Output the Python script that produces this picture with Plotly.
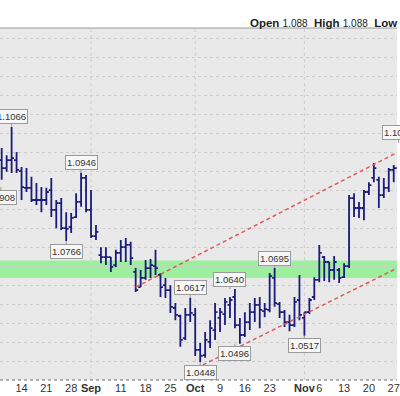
import numpy as np
import pandas as pd
import plotly.graph_objects as go

# ---------------- data ----------------
DATES = [d.strftime("%Y-%m-%d") for d in pd.bdate_range("2017-08-08", "2017-11-28")]

OPEN = [1.0979, 1.0958, 1.0979, 1.0979, 1.0950, 1.0906, 1.0906, 1.0874, 1.0874, 1.0874,
        1.0900, 1.0848, 1.0866, 1.0800, 1.0803, 1.0829, 1.0869, 1.0932, 1.0848, 1.0779,
        1.0729, 1.0724, 1.0724, 1.0703, 1.0735, 1.0750, 1.0756, 1.0685, 1.0645, 1.0669,
        1.0695, 1.0700, 1.0677, 1.0650, 1.0637, 1.0590, 1.0569, 1.0511, 1.0572, 1.0572,
        1.0480, 1.0466, 1.0501, 1.0532, 1.0564, 1.0574, 1.0598, 1.0619, 1.0545, 1.0519,
        1.0553, 1.0579, 1.0598, 1.0582, 1.0585, 1.0669, 1.0600, 1.0579, 1.0553, 1.0545,
        1.0611, 1.0564, 1.0579, 1.0619, 1.0664, 1.0724, 1.0711, 1.0690, 1.0690, 1.0671,
        1.0700, 1.0879, 1.0853, 1.0853, 1.0895, 1.0932, 1.0927, 1.0887, 1.0906, 1.0953,
        1.0958]
HIGH = [1.1011, 1.0992, 1.1066, 1.1000, 1.0961, 1.0958, 1.0935, 1.0919, 1.0908, 1.0906,
        1.0932, 1.0874, 1.0879, 1.0842, 1.0840, 1.0892, 1.0946, 1.0940, 1.0900, 1.0808,
        1.0750, 1.0750, 1.0724, 1.0743, 1.0769, 1.0774, 1.0764, 1.0695, 1.0690, 1.0716,
        1.0719, 1.0743, 1.0682, 1.0669, 1.0650, 1.0603, 1.0572, 1.0590, 1.0617, 1.0590,
        1.0498, 1.0527, 1.0558, 1.0603, 1.0590, 1.0616, 1.0619, 1.0640, 1.0564, 1.0579,
        1.0603, 1.0616, 1.0619, 1.0603, 1.0682, 1.0695, 1.0606, 1.0585, 1.0572, 1.0619,
        1.0677, 1.0579, 1.0616, 1.0671, 1.0756, 1.0727, 1.0711, 1.0727, 1.0695, 1.0708,
        1.0887, 1.0892, 1.0869, 1.0900, 1.0921, 1.0971, 1.0935, 1.0932, 1.0958, 1.0966,
        1.1024]
LOW = [1.0927, 1.0948, 1.0945, 1.0945, 1.0874, 1.0895, 1.0869, 1.0861, 1.0842, 1.0861,
       1.0829, 1.0800, 1.0795, 1.0766, 1.0787, 1.0827, 1.0856, 1.0842, 1.0774, 1.0769,
       1.0708, 1.0703, 1.0685, 1.0698, 1.0711, 1.0711, 1.0703, 1.0632, 1.0645, 1.0664,
       1.0669, 1.0677, 1.0619, 1.0616, 1.0577, 1.0558, 1.0488, 1.0506, 1.0553, 1.0464,
       1.0448, 1.0459, 1.0485, 1.0506, 1.0527, 1.0545, 1.0564, 1.0537, 1.0496, 1.0514,
       1.0532, 1.0553, 1.0537, 1.0566, 1.0579, 1.0593, 1.0564, 1.0540, 1.0529, 1.0540,
       1.0558, 1.0517, 1.0574, 1.0611, 1.0658, 1.0661, 1.0658, 1.0664, 1.0656, 1.0669,
       1.0695, 1.0829, 1.0827, 1.0821, 1.0887, 1.0921, 1.0853, 1.0879, 1.0895, 1.0921,
       1.0940]
CLOSE = [1.0958, 1.0979, 1.0984, 1.0953, 1.0908, 1.0906, 1.0874, 1.0874, 1.0874, 1.0895,
         1.0848, 1.0866, 1.0800, 1.0798, 1.0827, 1.0869, 1.0932, 1.0848, 1.0779, 1.0790,
         1.0724, 1.0724, 1.0698, 1.0735, 1.0750, 1.0756, 1.0721, 1.0637, 1.0669, 1.0695,
         1.0703, 1.0695, 1.0645, 1.0637, 1.0593, 1.0572, 1.0506, 1.0572, 1.0577, 1.0480,
         1.0464, 1.0506, 1.0537, 1.0579, 1.0579, 1.0606, 1.0611, 1.0545, 1.0519, 1.0553,
         1.0579, 1.0598, 1.0585, 1.0587, 1.0674, 1.0603, 1.0579, 1.0553, 1.0545, 1.0606,
         1.0572, 1.0579, 1.0611, 1.0664, 1.0735, 1.0711, 1.0690, 1.0711, 1.0669, 1.0700,
         1.0879, 1.0853, 1.0853, 1.0895, 1.0913, 1.0958, 1.0887, 1.0906, 1.0953, 1.0958,
         1.1006]

# x-axis tick labels
TICK_DATES = ["2017-08-14", "2017-08-21", "2017-08-28", "2017-09-01", "2017-09-11",
              "2017-09-18", "2017-09-25", "2017-10-02", "2017-10-09", "2017-10-16",
              "2017-10-23", "2017-11-01", "2017-11-06", "2017-11-13", "2017-11-20",
              "2017-11-27"]
TICK_TEXT = ["14", "21", "28", "<b>Sep</b>", "11", "18", "25", "<b>Oct</b>", "9", "16",
             "23", "<b>Nov</b>", "6", "13", "20", "27"]
MONTH_STARTS = ["2017-09-01", "2017-10-02", "2017-11-01"]

# high / low callouts
LABEL_DATES = ["2017-08-10", "2017-08-30", "2017-08-25", "2017-09-29", "2017-10-03",
               "2017-10-11", "2017-10-12", "2017-10-24", "2017-11-01"]
LABEL_PRICES = [1.1066, 1.0946, 1.0766, 1.0617, 1.0448, 1.0640, 1.0496, 1.0695, 1.0517]
LABEL_SIDE = ["high", "high", "low", "high", "low", "high", "low", "high", "low"]
# callouts on bars just outside the visible window
EDGE_LABEL_DATES = ["2017-08-03", "2017-11-28"]
EDGE_LABEL_PRICES = [1.0908, 1.1024]
EDGE_LABEL_SIDE = ["low", "high"]

# support band and trend channel
BAND = [1.0669, 1.0715]
UPPER_DATES = ["2017-09-14", "2017-11-28"]
UPPER_PRICES = [1.0645, 1.1001]
LOWER_DATES = ["2017-09-29", "2017-11-28"]
LOWER_PRICES = [1.0424, 1.0697]

HEADER = [("Open", "1.088"), ("High", "1.088"), ("Low", "1.088"), ("Close", "1.088")]

# ---------------- helpers ----------------
def pos(d):
    return int(np.busday_count(DATES[0], d))

X = [pos(d) for d in DATES]
XR = [-0.34, 79.66]
YR = [1.04007, 1.13263]

NAVY = "#1b1b7a"
GRID = "#cdcdcd"
FONT = "Liberation Sans, Arial, sans-serif"

fig = go.Figure()

fig.add_trace(go.Ohlc(
    x=X, open=OPEN, high=HIGH, low=LOW, close=CLOSE,
    increasing=dict(line=dict(color=NAVY, width=1.8)),
    decreasing=dict(line=dict(color=NAVY, width=1.8)),
    tickwidth=0.5, text=DATES, hoverinfo="text+y", showlegend=False,
))

fig.add_trace(go.Scatter(
    x=[pos(d) for d in UPPER_DATES], y=UPPER_PRICES, mode="lines",
    line=dict(color="#e05a5a", width=1.5, dash="4px,3px"),
    hoverinfo="skip", showlegend=False))
fig.add_trace(go.Scatter(
    x=[pos(d) for d in LOWER_DATES], y=LOWER_PRICES, mode="lines",
    line=dict(color="#e05a5a", width=1.5, dash="4px,3px"),
    hoverinfo="skip", showlegend=False))

shapes = []
for d in MONTH_STARTS:
    shapes.append(dict(type="line", xref="x", yref="paper", x0=pos(d), x1=pos(d),
                       y0=0, y1=1, line=dict(color=GRID, width=1, dash="dot"),
                       layer="below"))
shapes.append(dict(type="rect", xref="paper", yref="y", x0=0, x1=1,
                   y0=BAND[0], y1=BAND[1], fillcolor="#9cef9c",
                   line=dict(width=0), layer="between"))
# bottom dotted axis line and top border
shapes.append(dict(type="line", xref="paper", yref="paper", x0=0, x1=1, y0=0, y1=0,
                   line=dict(color="#6e6e6e", width=1, dash="dot"), layer="above"))
shapes.append(dict(type="line", xref="paper", yref="paper", x0=0, x1=1, y0=1, y1=1,
                   line=dict(color="#9a9a9a", width=1), layer="above"))

label_style = dict(font=dict(family=FONT, size=9.5, color="#333333"),
                   bgcolor="#f7f7f7", bordercolor="#9a9a9a", borderwidth=1,
                   borderpad=1, showarrow=True, arrowhead=0, arrowwidth=1,
                   arrowcolor="#9a9a9a", ax=0, standoff=0)
annotations = []
for d, p, s in zip(LABEL_DATES, LABEL_PRICES, LABEL_SIDE):
    annotations.append(dict(x=pos(d), y=p, xref="x", yref="y", text=f"{p:.4f}",
                            ay=-10 if s == "high" else 10, **label_style))
for d, p, s in zip(EDGE_LABEL_DATES, EDGE_LABEL_PRICES, EDGE_LABEL_SIDE):
    xp = (pos(d) - XR[0]) / (XR[1] - XR[0])
    annotations.append(dict(x=xp, y=p, xref="paper", yref="y", text=f"{p:.4f}",
                            ay=-10 if s == "high" else 10, **label_style))

header = "&nbsp;&nbsp;".join(
    f"<b>{k}</b> <span style='font-size:10px'>{v}</span>" for k, v in HEADER)
annotations.append(dict(x=0.625, y=1.0156, xref="paper", yref="paper",
                        xanchor="left", yanchor="middle", showarrow=False,
                        text=header, font=dict(family=FONT, size=11.5, color="#222222")))

fig.update_layout(
    width=400, height=396,
    margin=dict(l=0, r=0, t=28, b=16),
    paper_bgcolor="white", plot_bgcolor="#e9e9e9",
    shapes=shapes, annotations=annotations,
    hovermode="closest",
    xaxis=dict(range=XR, tickmode="array", tickvals=[pos(d) for d in TICK_DATES],
               ticktext=TICK_TEXT, tickangle=0, ticklabeloverflow="allow",
               showgrid=False, zeroline=False,
               showline=False, ticks="", ticklen=0, rangeslider=dict(visible=False),
               tickfont=dict(family=FONT, size=11, color="#333333")),
    yaxis=dict(range=YR, dtick=0.005, tick0=1.0, showgrid=True, gridcolor=GRID,
               griddash="dot", gridwidth=1, zeroline=False, showticklabels=False,
               ticks=""),
)

fig.write_html("out.html",
               config={"displayModeBar": False},
               post_script="document.body.style.margin='0';"
                           "document.body.style.overflow='hidden';")
